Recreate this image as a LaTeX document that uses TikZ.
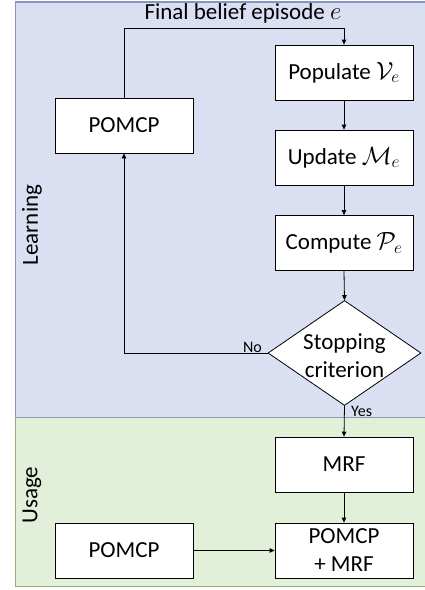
\documentclass[tikz,border=0pt]{standalone}
\usepackage{fontspec}
\setmainfont{Carlito}
\usetikzlibrary{shapes.geometric,arrows.meta}
\definecolor{learnfill}{HTML}{DAE0F1}
\definecolor{learnline}{HTML}{8595BD}
\definecolor{usefill}{HTML}{E2EFD9}
\definecolor{useline}{HTML}{93AE7E}
\tikzset{
  stepbox/.style={draw=black, fill=white, line width=0.8pt, minimum width=138pt, minimum height=55pt, inner sep=0pt, font=\fontsize{23}{28}\selectfont, align=center},
  conn/.style={draw=black, line width=0.8pt, -{Triangle[length=5pt,width=4.5pt]}},
  small/.style={font=\fontsize{16}{19}\selectfont, inner sep=0pt},
  big/.style={font=\fontsize{23}{28}\selectfont, inner sep=0pt},
}
\begin{document}
\begin{tikzpicture}[x={(1pt,0)}, y={(0,-1pt)}]
\useasboundingbox (0,0) rectangle (424,590);
% panels
\fill[learnfill] (15.7,2) rectangle (430,417.7);
\fill[usefill] (15.7,417.7) rectangle (430,586.7);
\draw[learnline, line width=1.2pt] (430,2) -- (15.7,2) -- (15.7,417.7);
\draw[useline, line width=1.2pt] (15.7,417.7) -- (15.7,586.7) -- (430,586.7);
\draw[learnline!70!useline, line width=1.2pt] (15.7,417.7) -- (430,417.7);
\node[big, rotate=90] (lab1) at (32,225) {Learning};
\node[big, rotate=90] (lab2) at (32,495) {Usage};
% nodes
\node[stepbox] (pop) at (344,72.5) {Populate $\mathcal{V}_{\scriptstyle e}$};
\node[stepbox] (upd) at (344,157.5) {Update $\mathcal{M}_{\scriptstyle e}$};
\node[stepbox] (cmp) at (344,243) {Compute $\mathcal{P}_{\scriptstyle e}$};
\node[diamond, draw=black, fill=white, line width=0.8pt, minimum width=153pt, minimum height=105pt, inner sep=0pt] (stop) at (344.5,353) {};
\node[big, align=center] (stoptxt) at (344.5,356) {Stopping\\[0pt]criterion};
\node[stepbox] (pom1) at (124,125.5) {POMCP};
\node[stepbox] (mrf) at (344,464.5) {MRF};
\node[stepbox] (pm) at (344,550.5) {POMCP\\[0pt]+ MRF};
\node[stepbox] (pom2) at (124,550.5) {POMCP};
\node[big] (final) at (243,13) {Final belief episode $e$};
\coordinate (c1) at (124,28);
\coordinate (c2) at (344,28);
\coordinate (c3) at (124,353);
% connectors
\draw[conn] (pom1.north) -- (c1) -- (c2) -- (pop.north);
\draw[conn] (pop) -- (upd);
\draw[conn] (upd) -- (cmp);
\draw[conn] (cmp.south) -- (stop.north);
\draw[conn] (stop.west) -- (c3) -- (pom1.south);
\draw[conn] (stop.south) -- (mrf.north);
\draw[conn] (mrf) -- (pm);
\draw[conn] (pom2) -- (pm);
\node[small, anchor=east] (no) at (262,347) {No};
\node[small, anchor=west] (yes) at (351,411) {Yes};
\end{tikzpicture}
\end{document}
